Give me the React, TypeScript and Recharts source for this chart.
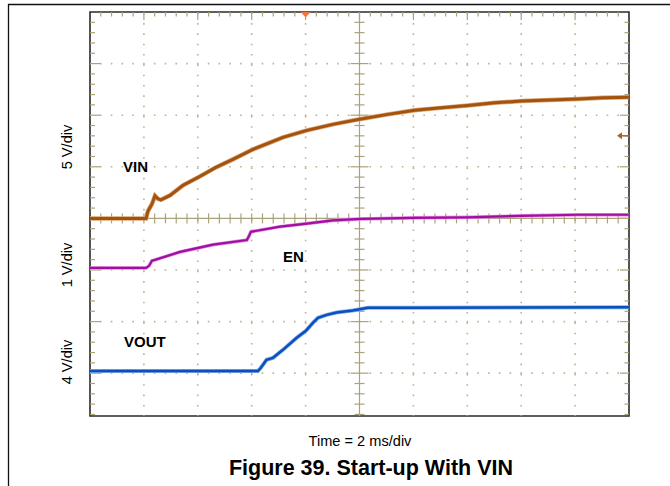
import React from "react";
import {
  LineChart,
  Line,
  XAxis,
  YAxis,
  ReferenceLine,
  ReferenceArea,
  ReferenceDot,
} from "recharts";

// 2 ms/div, 10 divisions
const TIME_DOMAIN: [number, number] = [0, 20];

// screen in divisions from the centre line (the capture cuts the bottom row)
const DIV_TOP = 4;
const DIV_BOTTOM = -3.83;

// channel scales (V/div) and ground offsets (div from centre)
const VIN_SCALE = 5;
const VIN_ZERO = 0;
const EN_SCALE = 1;
const EN_ZERO = -0.96;
const VOUT_SCALE = 4;
const VOUT_ZERO = -2.96;

// VIN trace (ms, V)
const vinTime = [0, 2.08, 2.15, 2.3, 2.41, 2.52, 2.63, 2.97, 3.45, 4.08, 4.67, 5.3, 6.05, 7.16, 8.05, 9.01, 10.05, 11.05, 12.05, 13.02, 14.02, 15.02, 16.02, 17.06, 18.1, 19.03, 20];
const vinVolts = [0, 0, 0.7, 1.4, 2.2, 1.9, 1.8, 2.23, 3.2, 4.07, 4.94, 5.72, 6.69, 7.85, 8.53, 9.11, 9.64, 10.08, 10.47, 10.71, 10.95, 11.2, 11.37, 11.48, 11.56, 11.68, 11.75];

// EN trace
const enTime = [0, 2.08, 2.19, 2.3, 2.41, 3.34, 4.56, 5.82, 5.9, 5.97, 7.05, 8.05, 9.01, 10.05, 12.05, 14.02, 16.02, 18.1, 20];
const enVolts = [0, 0, 0.04, 0.14, 0.155, 0.31, 0.45, 0.54, 0.62, 0.7, 0.8, 0.86, 0.92, 0.95, 0.97, 0.98, 1.01, 1.03, 1.03];

// VOUT trace
const voutTime = [0, 6.23, 6.34, 6.55, 6.79, 7.16, 7.67, 8.01, 8.27, 8.46, 8.78, 9.15, 9.75, 10.31, 12.02, 20];
const voutVolts = [0, 0, 0.26, 0.88, 1.03, 1.65, 2.58, 3.12, 3.74, 4.13, 4.36, 4.54, 4.7, 4.91, 4.92, 4.95];

// scope markers
const TRIGGER_TIME = 8;
const VIN_TRIGGER_LEVEL = 8;

const zip = (t: number[], v: number[]) => t.map((x, i) => ({ t: x, v: v[i] }));
const vinData = zip(vinTime, vinVolts);
const enData = zip(enTime, enVolts);
const voutData = zip(voutTime, voutVolts);

const chanDomain = (scale: number, zero: number): [number, number] => [
  (DIV_BOTTOM - zero) * scale,
  (DIV_TOP - zero) * scale,
];

const W = 670;
const H = 486;
const MARGIN = { top: 12, right: 41, bottom: 70, left: 90 };
const PX_PER_MS = (W - MARGIN.left - MARGIN.right) / (TIME_DOMAIN[1] - TIME_DOMAIN[0]);
const PX_PER_DIV = (H - MARGIN.top - MARGIN.bottom) / (DIV_TOP - DIV_BOTTOM);
const msPx = (px: number) => px / PX_PER_MS;
const divPx = (px: number) => px / PX_PER_DIV;

const GRID = "#aba27c";
const DOTS = "#bdb38f";
const FONT = "'Liberation Sans', Arial, Helvetica, sans-serif";

const near = (a: number) => Math.abs(a - Math.round(a)) < 1e-6;
const minorT = Array.from({ length: 51 }, (_, i) => i * 0.4);
const minorD = Array.from({ length: 40 }, (_, i) => (i - 19) * 0.2);

type Seg = [number, number, number, number];
const segs: Seg[] = [];
minorT.forEach((t) => {
  if (t <= 0 || t >= 20) return;
  const major = near(t / 2);
  segs.push([t, DIV_TOP, t, DIV_TOP - divPx(major ? 8 : 4.5)]);
  segs.push([t, -divPx(5), t, divPx(5)]);
});
minorD.forEach((d) => {
  if (d <= DIV_BOTTOM || d >= DIV_TOP) return;
  const major = near(d);
  segs.push([0, d, msPx(major ? 10 : 5), d]);
  segs.push([20, d, 20 - msPx(major ? 9 : 4.5), d]);
  if (Math.abs(d) > 1e-6) {
    const h = msPx(major ? 9 : 5);
    segs.push([10 - h, d, 10 + h, d]);
  }
});

const gridT = [2, 4, 6, 8, 12, 14, 16, 18];
const gridD = [3, 2, 1, -1, -2, -3];

const App: React.FC = () => {
  return (
    <div style={{ position: "absolute", left: 0, top: 0, width: W, height: H, background: "#fff" }}>
      <LineChart width={W} height={H} margin={MARGIN}>
        <XAxis dataKey="t" type="number" domain={TIME_DOMAIN} allowDataOverflow hide />
        <YAxis yAxisId="div" type="number" domain={[DIV_BOTTOM, DIV_TOP]} allowDataOverflow hide />
        <YAxis yAxisId="vin" type="number" domain={chanDomain(VIN_SCALE, VIN_ZERO)} allowDataOverflow hide />
        <YAxis yAxisId="en" type="number" domain={chanDomain(EN_SCALE, EN_ZERO)} allowDataOverflow hide />
        <YAxis yAxisId="vout" type="number" domain={chanDomain(VOUT_SCALE, VOUT_ZERO)} allowDataOverflow hide />

        {gridT.map((t) => (
          <ReferenceLine key={"gt" + t} yAxisId="div" x={t} stroke={DOTS} strokeWidth={1.6}
            strokeDasharray={`1.6 ${(PX_PER_DIV / 5 - 1.6).toFixed(2)}`} strokeDashoffset={0.8} ifOverflow="visible" />
        ))}
        {gridD.map((d) => (
          <ReferenceLine key={"gd" + d} yAxisId="div" y={d} stroke={DOTS} strokeWidth={1.6}
            strokeDasharray={`1.6 ${(PX_PER_MS * 0.4 - 1.6).toFixed(2)}`} strokeDashoffset={0.8} ifOverflow="visible" />
        ))}
        <ReferenceLine yAxisId="div" x={10} stroke={GRID} strokeWidth={1.2} ifOverflow="visible" />
        <ReferenceLine yAxisId="div" y={0} stroke={GRID} strokeWidth={1.2} ifOverflow="visible" />
        {segs.map((s, i) => (
          <ReferenceLine key={"s" + i} yAxisId="div" stroke={GRID} strokeWidth={1.2} ifOverflow="visible"
            segment={[{ x: s[0], y: s[1] }, { x: s[2], y: s[3] }]} />
        ))}

        <Line yAxisId="vin" data={vinData} dataKey="v" type="linear" stroke="#d9a676" strokeWidth={4.5} dot={false} activeDot={false} isAnimationActive={false} />
        <Line yAxisId="vin" data={vinData} dataKey="v" type="linear" stroke="#a3530d" strokeWidth={3} dot={false} activeDot={false} isAnimationActive={false} />
        <Line yAxisId="en" data={enData} dataKey="v" type="linear" stroke="#e48ae4" strokeWidth={3.5} dot={false} activeDot={false} isAnimationActive={false} />
        <Line yAxisId="en" data={enData} dataKey="v" type="linear" stroke="#9f0fa0" strokeWidth={2.2} dot={false} activeDot={false} isAnimationActive={false} />
        <Line yAxisId="vout" data={voutData} dataKey="v" type="linear" stroke="#86aee2" strokeWidth={4} dot={false} activeDot={false} isAnimationActive={false} />
        <Line yAxisId="vout" data={voutData} dataKey="v" type="linear" stroke="#0b50bf" strokeWidth={2.5} dot={false} activeDot={false} isAnimationActive={false} />

        <ReferenceArea yAxisId="div" x1={TIME_DOMAIN[0]} x2={TIME_DOMAIN[1]} y1={DIV_BOTTOM} y2={DIV_TOP}
          fill="none" fillOpacity={0} stroke="#2a2a2a" strokeWidth={1.6} ifOverflow="visible" />

        <ReferenceDot yAxisId="div" x={TRIGGER_TIME} y={DIV_TOP} ifOverflow="visible"
          shape={(p: any) => (
            <polygon points={`${p.cx - 5},${p.cy} ${p.cx + 5},${p.cy} ${p.cx},${p.cy + 5.5}`} fill="#f4763a" />
          )} />
        <ReferenceDot yAxisId="vin" x={TIME_DOMAIN[1]} y={VIN_TRIGGER_LEVEL} ifOverflow="visible"
          shape={(p: any) => (
            <g>
              <polygon points={`${p.cx - 12},${p.cy} ${p.cx - 7},${p.cy - 3.5} ${p.cx - 7},${p.cy + 3.5}`} fill="#b0621e" />
              <line x1={p.cx - 8} y1={p.cy} x2={p.cx} y2={p.cy} stroke="#b0621e" strokeWidth={1.5} />
            </g>
          )} />
      </LineChart>

      <svg width={W} height={H} style={{ position: "absolute", left: 0, top: 0, pointerEvents: "none" }}
        fontFamily={FONT}>
        <line x1={8} y1={4.5} x2={W} y2={4.5} stroke="#111" strokeWidth={1.3} />
        <line x1={8.5} y1={4} x2={8.5} y2={H} stroke="#111" strokeWidth={1.3} />

        <text x={72} y={147} fontSize={14.6} textAnchor="middle" transform="rotate(-90 72 147)">5 V/div</text>
        <text x={72} y={265} fontSize={14.6} textAnchor="middle" transform="rotate(-90 72 265)">1 V/div</text>
        <text x={72} y={362} fontSize={14.6} textAnchor="middle" transform="rotate(-90 72 362)">4 V/div</text>

        <text x={123} y={172} fontSize={15} fontWeight="bold">VIN</text>
        <text x={283} y={262} fontSize={15} fontWeight="bold">EN</text>
        <text x={124} y={347} fontSize={15} fontWeight="bold">VOUT</text>

        <text x={360} y={445.5} fontSize={14.6} textAnchor="middle">Time = 2 ms/div</text>
        <text x={371} y={475.3} fontSize={21.5} fontWeight="bold" textAnchor="middle">Figure 39. Start-up With VIN</text>
      </svg>
    </div>
  );
};

export default App;
